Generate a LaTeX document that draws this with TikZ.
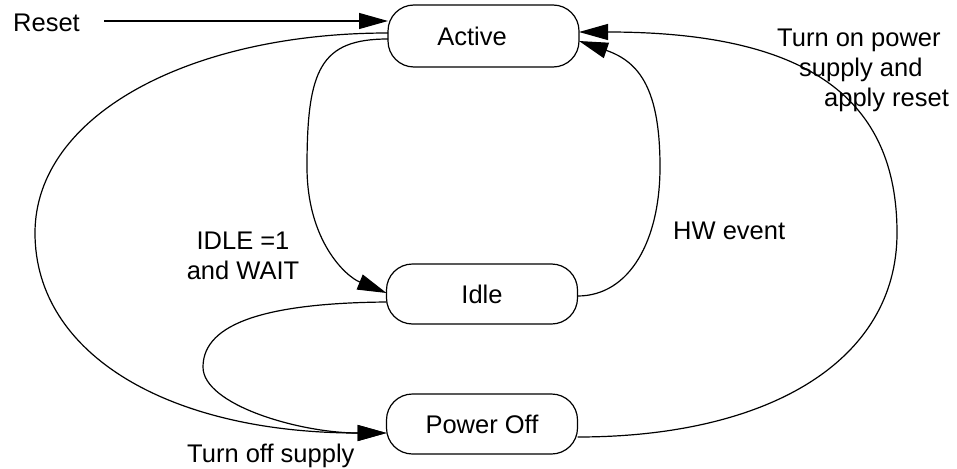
\documentclass[tikz,border=0pt]{standalone}
\usepackage{fontspec}
\setmainfont{Liberation Sans}
\usetikzlibrary{arrows.meta}
\begin{document}
\begin{tikzpicture}[x=1pt,y=-1pt,
  every node/.style={font=\fontsize{25.5}{30}\selectfont},
  state/.style={draw, line width=1.2pt, rounded corners=26pt, minimum width=191pt, minimum height=60pt, inner sep=0pt, outer sep=0pt},
  conn/.style={line width=1.2pt},
  arr/.style={conn, -{Triangle[length=29pt,width=16pt]}},
  lbl/.style={inner sep=0pt}]
\useasboundingbox (0,0) rectangle (957,468);
% states
\node[state, minimum height=62pt] (act) at (483.5,36) {\hspace*{-23pt}Active};
\node[state] (idle) at (482,294) {Idle};
\node[state] (poff) at (482,424) {Power Off};
% labels
\node[lbl, anchor=base west] (lreset) at (13,32) {Reset};
\node[lbl, anchor=north, align=center] (lidle) at (243,231.7) {IDLE =1\\and WAIT};
\node[lbl, anchor=base west] (lhw) at (673,239) {HW event};
\node[lbl, anchor=base west] (loff) at (187,462) {Turn off supply};
\node[lbl, anchor=north west, align=left] (lon) at (777,28.7) {Turn on power\\\hspace*{22pt}supply and\\\hspace*{47pt}apply reset};
% connectors
\coordinate (rs) at (104,21);
\draw[arr] (rs) -- (rs -| act.west);
\draw[arr] ([yshift=3pt]act.west) .. controls (190,33) and (35,115) .. (35,233)
  .. controls (35,355) and (170,433) .. ([yshift=-9pt]poff.west);
\draw[arr] ([yshift=-3pt]act.west) .. controls (320,39) and (307,70) .. (307,167)
  .. controls (307,240) and (345,276) .. ([yshift=1pt]idle.west);
\draw[arr] ([yshift=-8pt]idle.west) .. controls (270,303) and (203,322) .. (203,367)
  .. controls (203,405) and (300,433) .. ([yshift=-9pt]poff.west);
\draw[arr] ([yshift=-2pt]idle.east) .. controls (630,296) and (660,240) .. (660,167)
  .. controls (660,90) and (640,62) .. ([yshift=-5pt]act.east);
\draw[arr] ([yshift=-13pt]poff.east) .. controls (770,437) and (897,360) .. (897,233)
  .. controls (897,100) and (810,32) .. ([yshift=4pt]act.east);
\end{tikzpicture}
\end{document}
